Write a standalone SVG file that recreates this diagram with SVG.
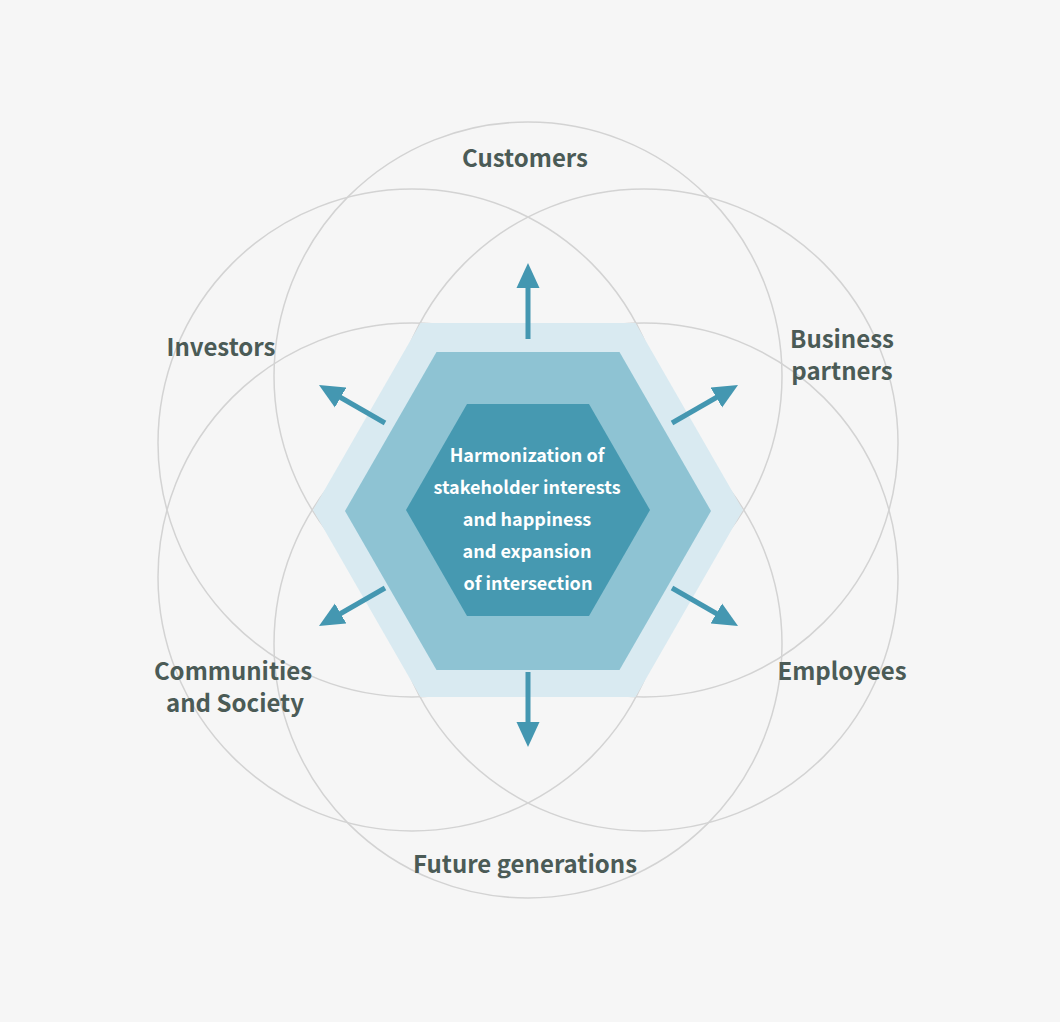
<svg xmlns="http://www.w3.org/2000/svg" width="1060" height="1022" viewBox="0 0 1060 1022">
  <style>
    .ring { fill: none; stroke: #d3d3d3; stroke-width: 1.5; }
    .lbl { font-family: "Noto Sans CJK JP", "Noto Sans", sans-serif; font-weight: bold; font-size: 24px; fill: #4b5b56; text-anchor: middle; }
    .core { font-family: "Noto Sans CJK JP", "Noto Sans", sans-serif; font-weight: bold; font-size: 18px; fill: #ffffff; text-anchor: middle; }
    .arr { stroke: #4497b1; stroke-width: 5; fill: none; }
  </style>
  <defs>
    <marker id="head" markerUnits="userSpaceOnUse" markerWidth="25" markerHeight="24" viewBox="0 -12 25 24" refX="2" refY="0" orient="auto">
      <path d="M0,-11.5 L25,0 L0,11.5 Z" fill="#4497b1"/>
    </marker>
  </defs>
  <rect width="1060" height="1022" fill="#f6f6f6"/>

  <g id="circles">
    <circle id="c-customers" class="ring" cx="528" cy="376" r="254"/>
    <circle id="c-investors" class="ring" cx="412" cy="443" r="254"/>
    <circle id="c-partners" class="ring" cx="644" cy="443" r="254"/>
    <circle id="c-communities" class="ring" cx="412" cy="577" r="254"/>
    <circle id="c-employees" class="ring" cx="644" cy="577" r="254"/>
    <circle id="c-future" class="ring" cx="528" cy="644" r="254"/>
  </g>

  <g id="hexagons">
    <polygon id="hex-outer" points="313,510 420.5,323 635.5,323 743,510 635.5,697 420.5,697" fill="#d9eaf1"/>
    <polygon id="hex-middle" points="345,511 436.5,352 619.5,352 711,511 619.5,670 436.5,670" fill="#8ec3d3"/>
    <polygon id="hex-inner" points="406,510 467,404 589,404 650,510 589,616 467,616" fill="#4699b1"/>
  </g>

  <g id="core">
    <text class="core" x="527" y="462">Harmonization of</text>
    <text class="core" x="527" y="494">stakeholder interests</text>
    <text class="core" x="527" y="526">and happiness</text>
    <text class="core" x="527" y="558">and expansion</text>
    <text class="core" x="528" y="590">of intersection</text>
  </g>

  <g id="connectors">
    <line class="arr" x1="528" y1="339" x2="528" y2="286" marker-end="url(#head)"/>
    <line class="arr" x1="385" y1="423" x2="338.9" y2="396.5" marker-end="url(#head)"/>
    <line class="arr" x1="672" y1="423" x2="718.1" y2="396.5" marker-end="url(#head)"/>
    <line class="arr" x1="385" y1="588" x2="338.9" y2="614.5" marker-end="url(#head)"/>
    <line class="arr" x1="672" y1="588" x2="718.1" y2="614.5" marker-end="url(#head)"/>
    <line class="arr" x1="528" y1="672" x2="528" y2="724" marker-end="url(#head)"/>
  </g>

  <g id="customers"><text class="lbl" x="525" y="167">Customers</text></g>
  <g id="investors"><text class="lbl" x="221" y="356">Investors</text></g>
  <g id="partners"><text class="lbl" x="842" y="348">Business</text><text class="lbl" x="842" y="380">partners</text></g>
  <g id="communities"><text class="lbl" x="233" y="680">Communities</text><text class="lbl" x="235" y="712">and Society</text></g>
  <g id="employees"><text class="lbl" x="842" y="680">Employees</text></g>
  <g id="future"><text class="lbl" x="525" y="873">Future generations</text></g>
</svg>
